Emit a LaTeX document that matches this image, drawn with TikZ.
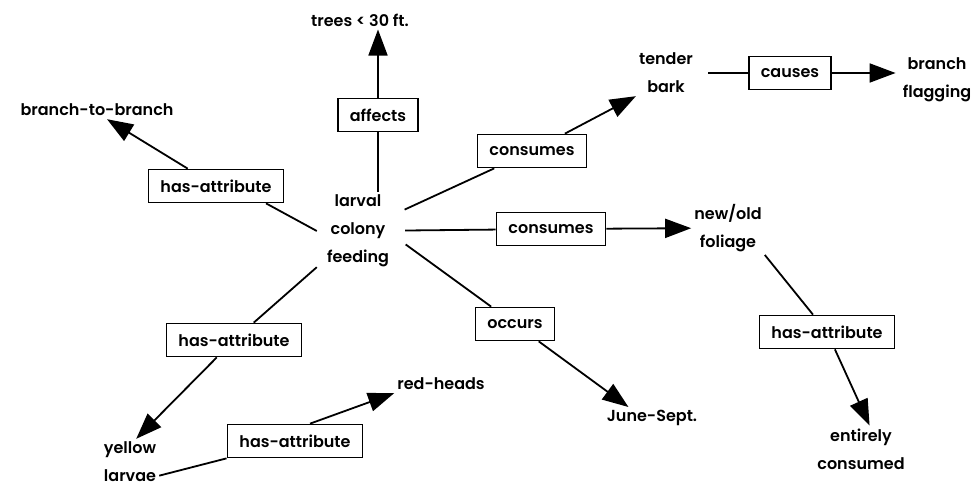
\documentclass[tikz,border=0pt]{standalone}
\usepackage{fontspec}
\setmainfont{Poppins}[UprightFont={* SemiBold}]
\usetikzlibrary{arrows.meta}
\begin{document}
\begin{tikzpicture}[x=1pt,y=-1pt,
  concept/.style={align=center, font=\fontsize{16}{28}\selectfont, inner sep=3pt},
  link/.style={draw, line width=1.7pt, fill=white, font=\fontsize{16}{18}\selectfont,
    minimum height=33pt, inner xsep=12pt},
  conn/.style={line width=1.8pt},
  arr/.style={conn, -{Triangle[length=26pt,width=19pt]}}
]
\useasboundingbox (0,0) rectangle (980,489);

% concepts
\node[concept] (trees) at (360,20) {trees < 30 ft.};
\node[concept] (b2b) at (97,110) {branch-to-branch};
\node[concept, inner xsep=10pt] (cf) at (358,231) {larval\\colony\\feeding};
\node[concept] (tb) at (666,73) {tender\\bark};
\node[concept] (bf) at (937,80) {branch\\flagging};
\node[concept] (fol) at (728,228) {new/old\\foliage};
\node[concept] (ec) at (861,449) {entirely\\consumed};
\node[concept] (june) at (652,418) {June-Sept.};
\node[concept] (yl) at (130,462) {yellow\\larvae};
\node[concept] (rh) at (441,384) {red-heads};

% linking phrases
\node[link] (aff) at (378,115) {affects};
\node[link] (h1) at (216,186) {has-attribute};
\node[link] (c1) at (532,151) {consumes};
\node[link] (cau) at (790,73) {causes};
\node[link] (c2) at (551,229) {consumes};
\node[link] (occ) at (515,324) {occurs};
\node[link] (h3) at (827,332) {has-attribute};
\node[link] (h2) at (234,340) {has-attribute};
\node[link] (h4) at (295,441) {has-attribute};

% connectors
\draw[conn] (cf.north -| aff) -- (aff);
\draw[arr] (aff) -- (trees.south -| aff);
\draw[conn] (cf.west) -- ([xshift=50pt]h1.south);
\draw[arr] (h1) -- ([xshift=10pt]b2b.south);
\draw[conn, shorten <=6pt] (cf) -- (c1);
\draw[arr] (c1) -- (tb.south west);
\draw[conn, shorten <=12pt] (tb.east |- cau) -- (cau);
\draw[arr, shorten >=4pt] (cau.east) -- (cau.east -| bf.west);
\draw[conn, shorten <=6pt] (cf) -- (c2);
\draw[arr] (c2) -- (fol);
\draw[conn, shorten <=8pt] (cf.-12) -- (occ);
\draw[arr] (occ) -- (june.155);
\draw[conn] (fol.south east) -- (h3);
\draw[arr] (h3) -- (ec.70);
\draw[conn] (cf) -- (h2);
\draw[arr] (h2) -- (yl.75);
\draw[conn] (yl.-25) -- (h4.south west);
\draw[arr] ([xshift=15pt]h4.north) -- (rh.south west);
\end{tikzpicture}
\end{document}
